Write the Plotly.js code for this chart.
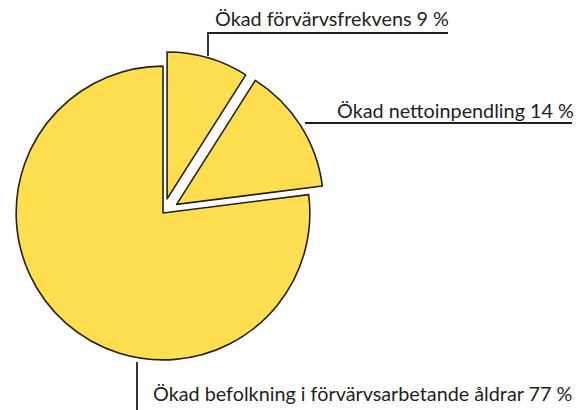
<!DOCTYPE html>
<html>
<head>
<meta charset="utf-8">
<script src="https://cdn.plot.ly/plotly-3.0.1.min.js"></script>
<style>html,body{margin:0;padding:0;background:#fff;}#chart{width:578px;height:410px;}</style>
</head>
<body>
<div id="chart"></div>
<script>
const categories = ["Ökad förvärvsfrekvens", "Ökad nettoinpendling", "Ökad befolkning i förvärvsarbetande åldrar"];
const shares = [9, 14, 77];
const pulls = [0.10, 0.11, 0];

const W = 578, H = 410;
const px = x => x / W;
const py = y => (H - y) / H;

const fill = "#FFDF4F";
const ink = "#231F20";

const trace = {
  type: "pie",
  labels: categories,
  values: shares,
  sort: false,
  direction: "clockwise",
  rotation: 0,
  pull: pulls,
  textinfo: "none",
  hoverinfo: "label+percent",
  marker: { colors: [fill, fill, fill], line: { color: ink, width: 1.6 } },
  domain: { x: [0, px(326)], y: [py(393), py(33)] },
  showlegend: false
};

const labelText = categories.map((c, i) => c + " " + shares[i] + " %");
const labelPos = [[213, 18], [335, 110], [151, 393]];

const annotations = labelText.map((t, i) => ({
  text: t, xref: "paper", yref: "paper",
  x: px(labelPos[i][0]), y: py(labelPos[i][1]),
  xanchor: "left", yanchor: "middle", showarrow: false,
  font: { family: "Lato, sans-serif", size: 19.8, color: ink }
}));

const lineStyle = { color: ink, width: 1.8 };
const leaders = [
  [[208, 56], [208, 33], [448, 33]],
  [[305, 123], [572, 123]],
  [[137, 362], [137, 410]]
];
const shapes = leaders.map(pts => ({
  type: "path", xref: "paper", yref: "paper",
  path: pts.map((p, j) => (j ? "L" : "M") + px(p[0]) + "," + py(p[1])).join(" "),
  line: lineStyle
}));

Plotly.newPlot("chart", [trace], {
  width: W, height: H,
  margin: { l: 0, r: 0, t: 0, b: 0 },
  paper_bgcolor: "#fff",
  annotations: annotations,
  shapes: shapes
}, { displayModeBar: false, staticPlot: true });
</script>
</body>
</html>
